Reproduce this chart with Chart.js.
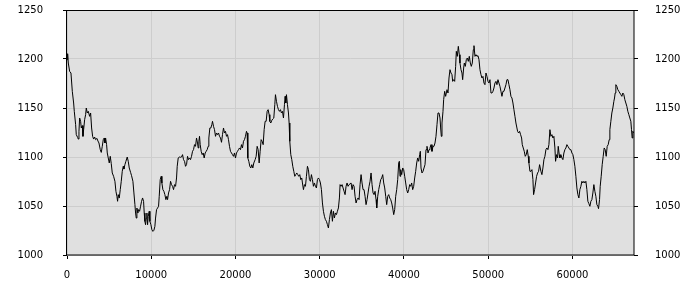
<!DOCTYPE html>
<html>
<head>
<meta charset="utf-8">
<script src="https://cdn.jsdelivr.net/npm/chart.js@4/dist/chart.umd.min.js"></script>
<style>
  body { margin: 0; background: #fff; }
  #wrap { width: 700px; height: 300px; }
</style>
</head>
<body>
<div id="wrap"><canvas id="chart" width="700" height="300"></canvas></div>
<script>
// x positions of the series (sample index)
const xValues = [
  0,76,154,313,471,629,787,866,1024,1103,
  1261,1340,1420,1499,1617,1696,1815,1894,1973,2092,
  2210,2289,2408,2526,2684,2803,2922,3040,3159,3277,
  3396,3554,3673,3791,3949,4068,4187,4305,4424,4503,
  4582,4700,4780,4898,5017,5135,5254,5373,5531,5689,
  5807,5926,6005,6084,6203,6321,6440,6558,6677,6756,
  6875,6993,7151,7270,7389,7547,7665,7823,7942,8061,
  8140,8219,8298,8416,8495,8614,8733,8851,8970,9088,
  9167,9246,9325,9405,9484,9563,9642,9760,9839,9958,
  10076,10195,10314,10432,10511,10630,10749,10867,
  10947,11065,11184,11263,11381,11500,11619,11737,11856,11935,
  12053,12172,12291,12409,12528,12646,12765,12884,13002,13081,
  13200,13318,13476,13595,13714,13832,13951,14069,14188,14307,
  14425,14544,14662,14781,14900,15018,15137,15255,15374,15493,
  15572,15651,15730,15809,15927,16046,16165,16283,16402,16520,
  16639,16758,16837,16955,17074,17192,17271,17390,17509,17627,
  17746,17864,17983,18102,18220,18339,18457,18576,18695,18813,
  18932,19050,19169,19287,19406,19525,19643,19762,19880,19999,
  20118,20236,20355,20473,20592,20711,20829,20948,21066,21185,
  21303,21383,21462,21580,21699,21817,21936,22055,22173,
  22333,22451,22570,22688,22807,22926,23044,23163,23281,23400,
  23518,23637,23756,23874,23993,24072,24191,24309,24428,24546,
  24665,24744,24863,24981,25100,25218,25337,25455,25574,25693,
  25811,25890,25969,26048,26167,26286,26365,26444,26562,26681,
  26799,26918,27037,27155,27274,27392,27511,27629,27748,27867,
  27946,28064,28183,28302,28420,28539,28657,28776,28895,29013,
  29132,29250,29369,29488,29606,29725,29843,29962,30081,30199,
  30318,30436,30555,30673,30792,30911,31029,31148,31266,31385,
  31504,31622,31741,31859,31978,32097,32215,32334,32413,32531,
  32650,32769,32887,33006,33124,33243,33361,33480,
  33718,33836,33955,34073,34192,34311,34429,34548,34666,34785,
  34904,35022,35141,35259,35378,35496,35615,35734,35852,35971,
  36089,36208,36327,36445,36564,36682,36761,36880,36999,37117,
  37236,37354,37473,37592,37710,37829,37947,38066,38185,38303,
  38422,38540,38659,38777,38896,39015,39133,39252,39370,39449,
  39529,39608,39726,39845,39963,40082,40201,40319,40438,40556,
  40675,40794,40912,41031,41149,41268,41387,41505,41624,41742,
  41861,41940,42019,42138,42256,42375,42493,42612,42730,42849,
  42968,43086,43205,43323,43442,43561,43679,43798,43916,44035,
  44154,44272,44351,44430,44509,44628,44707,44826,44944,
  45104,45222,45341,45459,45578,45697,45776,45894,46013,46131,
  46210,46329,46448,46566,46645,46764,46882,46962,47080,47159,
  47278,47396,47515,47634,47752,47871,47989,48108,48226,48306,
  48424,48543,48661,48780,48899,49017,49136,49254,49373,49491,
  49610,49729,49847,49966,50084,50203,50322,50440,50559,50677,
  50796,50915,51033,51152,51270,51389,51507,51626,51745,51863,
  51982,52100,52219,52338,52456,52575,52693,52812,52931,53049,
  53168,53286,53405,53484,53603,53721,53840,53958,54038,54156,
  54275,54393,54512,54630,54749,54828,54947,55066,55184,55303,
  55382,55500,55619,55738,55856,55975,56093,
  56252,56370,56489,56607,56726,56845,56963,57082,57200,57319,
  57437,57556,57675,57793,57912,57991,58110,58228,58307,58426,
  58505,58624,58742,58861,58979,59098,59216,59335,59454,59572,
  59691,59809,59928,60047,60165,60284,60402,60521,60639,60758,
  60877,60995,61114,61232,61351,61470,61588,61707,61825,61944,
  62063,62181,62300,62418,62537,62655,62774,62893,63011,63090,
  63209,63288,63407,63525,63644,63763,63881,64000,64118,64237,
  64356,64435,64553,64672,64790,64909,64988,65067,65146,65265,
  65383,65502,65620,65739,65858,65976,66095,66213,66332,66451,
  66569,66688,66806,66925,67004,67083,67162,67300
];

// series values
const yValues = [
  1199.3,1205.4,1195.9,1187.4,1185.7,1167.0,1155.1,1146.6,1133.0,1122.8,
  1120.0,1118.3,1126.2,1139.8,1136.4,1129.6,1132.0,1121.1,1127.9,1138.1,
  1143.2,1150.0,1144.9,1146.6,1141.5,1144.9,1129.6,1121.1,1118.3,1120.4,
  1117.7,1119.0,1116.3,1114.3,1107.5,1104.7,1110.9,1117.7,1119.4,1114.3,
  1119.4,1112.6,1104.1,1099.0,1093.9,1100.7,1093.2,1083.7,1080.3,1075.2,
  1065.0,1059.8,1054.8,1061.6,1058.1,1066.7,1075.2,1085.4,1090.5,1087.7,
  1092.2,1095.6,1100.0,1095.6,1088.8,1084.3,1080.9,1075.2,1063.3,1051.4,
  1042.8,1037.7,1047.9,1042.8,1046.3,1044.6,1049.7,1054.8,1058.2,1054.8,
  1042.8,1034.3,1030.9,1037.7,1042.8,1030.9,1039.4,1044.6,1034.3,1030.9,
  1025.8,1024.1,1025.2,1029.2,1037.7,1046.3,1047.9,1049.7,
  1059.9,1076.9,1080.3,1073.5,1066.7,1065.0,1061.6,1056.5,1059.9,1056.5,
  1063.3,1066.7,1075.2,1071.8,1070.1,1066.7,1071.8,1070.1,1078.6,1090.5,
  1099.0,1100.0,1099.7,1100.0,1102.4,1097.3,1095.6,1090.5,1092.2,1100.7,
  1097.3,1099.0,1097.3,1100.7,1105.8,1107.5,1112.6,1110.9,1119.4,1114.3,
  1109.2,1116.0,1121.1,1112.6,1105.8,1102.4,1104.1,1099.0,1104.1,1105.8,
  1107.5,1110.9,1119.4,1129.6,1129.6,1133.0,1136.4,1131.3,1127.9,1121.1,
  1124.5,1122.8,1124.5,1121.1,1119.4,1115.0,1122.8,1129.6,1124.5,1126.2,
  1121.1,1122.8,1117.7,1110.9,1105.8,1104.1,1102.4,1100.7,1104.1,1099.0,
  1104.1,1105.8,1107.5,1109.2,1107.5,1112.6,1109.2,1116.0,1117.7,1121.1,
  1126.2,1124.5,1099.0,1095.6,1090.5,1088.8,1092.2,1088.8,1093.9,
  1097.3,1100.7,1110.9,1107.5,1093.9,1105.8,1117.7,1116.0,1112.6,1127.9,
  1136.4,1136.4,1146.6,1148.3,1143.2,1136.4,1134.7,1137.4,1138.8,1139.8,
  1153.4,1163.6,1156.8,1151.7,1148.3,1146.6,1148.3,1144.9,1146.6,1139.8,
  1153.4,1161.9,1155.1,1163.6,1153.4,1144.9,1134.7,1116.0,1102.4,1097.3,
  1090.5,1085.4,1080.3,1082.0,1083.7,1082.0,1080.3,1082.0,1076.9,1078.6,
  1073.5,1066.7,1071.8,1070.1,1080.3,1090.5,1087.1,1076.9,1075.2,1082.0,
  1076.9,1070.1,1073.5,1070.1,1068.4,1076.9,1078.6,1076.9,1073.5,1066.7,
  1053.1,1044.6,1039.5,1036.1,1034.4,1031.0,1027.6,1036.1,1042.9,1046.3,
  1034.4,1044.6,1037.8,1042.9,1041.2,1044.6,1048.0,1058.2,1071.8,1070.1,
  1071.8,1068.4,1065.0,1061.6,1070.1,1073.5,1070.1,1071.8,
  1073.5,1066.7,1071.8,1070.1,1059.9,1053.1,1056.5,1058.2,1056.5,1071.8,
  1082.0,1073.5,1066.7,1066.7,1059.9,1051.4,1056.5,1063.3,1070.1,1075.2,
  1083.7,1071.8,1063.3,1061.6,1065.0,1056.5,1048.0,1059.9,1066.7,1071.8,
  1076.9,1078.6,1082.0,1073.5,1068.4,1059.9,1051.4,1059.9,1061.6,1058.2,
  1056.5,1053.1,1048.0,1041.2,1046.3,1059.9,1066.7,1076.9,1093.9,1095.6,
  1080.3,1087.1,1082.0,1088.8,1087.1,1080.3,1073.5,1066.7,1063.3,1066.7,
  1071.8,1070.1,1073.5,1066.7,1070.1,1078.6,1085.4,1093.9,1099.0,1095.6,
  1102.4,1105.8,1088.8,1083.7,1085.4,1088.8,1092.2,1107.5,1110.9,1104.1,
  1107.5,1109.2,1112.6,1105.8,1110.9,1110.9,1114.3,1121.1,1133.0,1144.9,
  1144.9,1139.8,1129.6,1121.1,1134.7,1146.6,1158.5,1167.0,1161.9,
  1168.7,1165.3,1180.6,1189.1,1185.7,1184.0,1177.2,1178.9,1177.2,1192.5,
  1207.8,1202.7,1212.9,1204.4,1195.9,1189.1,1185.7,1178.9,1190.8,1195.9,
  1192.5,1199.3,1201.0,1197.6,1202.7,1195.9,1192.5,1195.9,1209.5,1213.6,
  1202.7,1204.4,1202.7,1203.4,1199.3,1189.1,1184.0,1180.6,1182.3,1175.5,
  1173.8,1185.7,1182.3,1177.2,1175.5,1178.9,1165.3,1165.3,1167.0,1170.4,
  1175.5,1177.2,1173.8,1178.9,1175.5,1172.1,1167.0,1161.9,1167.0,1167.0,
  1170.4,1173.8,1178.9,1178.9,1173.8,1168.7,1161.9,1160.2,1155.1,1148.3,
  1141.5,1134.7,1129.6,1126.2,1124.5,1126.2,1122.8,1119.4,1112.6,1109.2,
  1105.8,1100.7,1102.4,1107.5,1100.7,1093.9,1085.4,1085.4,1087.1,1076.9,
  1061.6,1066.7,1073.5,1080.3,1083.7,1085.4,1092.2,
  1085.4,1082.0,1088.8,1097.3,1100.7,1107.5,1109.2,1107.5,1112.6,1127.9,
  1121.1,1122.8,1119.4,1121.1,1109.2,1095.6,1102.4,1099.0,1110.9,1102.4,
  1099.0,1102.4,1099.0,1097.3,1104.1,1107.5,1109.2,1112.6,1110.9,1109.2,
  1107.5,1107.5,1104.1,1102.4,1097.3,1090.5,1080.3,1068.4,1061.6,1058.2,
  1066.7,1070.1,1075.2,1073.5,1075.2,1073.5,1075.2,1066.7,1054.8,1052.4,
  1049.7,1054.8,1056.5,1063.3,1071.8,1065.0,1059.9,1051.4,1049.7,1047.3,
  1056.5,1070.1,1080.3,1092.2,1100.7,1109.2,1107.5,1100.7,1110.9,1112.6,
  1117.7,1127.9,1136.4,1144.9,1150.0,1156.8,1160.2,1165.3,1173.8,1172.1,
  1168.7,1167.0,1165.3,1163.6,1161.9,1165.3,1163.6,1158.5,1155.1,1151.7,
  1146.6,1143.2,1139.8,1136.4,1127.9,1119.4,1126.2,1124.5
];

const xTicks = [0, 10000, 20000, 30000, 40000, 50000, 60000];
const yTicks = [1000, 1050, 1100, 1150, 1200, 1250];
const xMax = 67300;

const tickFont = { family: "'DejaVu Sans', sans-serif", size: 10 };

// grey plot background and black frame around the chart area
const plotFrame = {
    id: "plotFrame",
    beforeDraw(chart) {
        const a = chart.chartArea;
        const ctx = chart.ctx;
        ctx.save();
        ctx.fillStyle = "#e0e0e0";
        ctx.fillRect(a.left, a.top, a.right - a.left, a.bottom - a.top);
        ctx.restore();
    },
    afterDraw(chart) {
        const a = chart.chartArea;
        const ctx = chart.ctx;
        ctx.save();
        ctx.strokeStyle = "#000";
        ctx.lineWidth = 1;
        ctx.strokeRect(Math.round(a.left) - 0.5, Math.round(a.top) + 0.5,
            Math.round(a.right - a.left) + 0.5, Math.round(a.bottom - a.top) - 0.5);
        ctx.restore();
    }
};

const setTicks = list => scale => { scale.ticks = list.map(v => ({ value: v })); };

const yAxis = (position, width, padding, onArea) => ({
    type: "linear",
    position: position,
    min: 1000,
    max: 1250,
    afterBuildTicks: setTicks(yTicks),
    afterFit: s => { s.width = width; s.paddingTop = 0; s.paddingBottom = 0; },
    border: { display: false },
    grid: { color: "#cdcdcd", tickColor: "#000", tickLength: 4, drawOnChartArea: onArea },
    ticks: { font: tickFont, color: "#000", padding: padding, callback: v => String(v) }
});

new Chart(document.getElementById("chart"), {
    type: "line",
    data: {
        datasets: [{
            data: xValues.map((x, i) => ({ x: x, y: yValues[i] })),
            borderColor: "#000",
            borderWidth: 1,
            pointRadius: 0,
            tension: 0,
            fill: false
        }]
    },
    options: {
        responsive: false,
        animation: false,
        layout: { padding: { top: 10 } },
        plugins: { legend: { display: false }, tooltip: { enabled: false } },
        scales: {
            x: {
                type: "linear",
                position: "bottom",
                min: 0,
                max: xMax,
                afterBuildTicks: setTicks(xTicks),
                afterFit: s => { s.height = 45; s.paddingLeft = 0; s.paddingRight = 0; },
                border: { display: false },
                grid: { color: "#cdcdcd", tickColor: "#000", tickLength: 4 },
                ticks: { font: tickFont, color: "#000", padding: 10, maxRotation: 0, autoSkip: false, callback: v => String(v) }
            },
            y: yAxis("left", 67, 20, true),
            y2: yAxis("right", 66, 17, false)
        }
    },
    plugins: [plotFrame]
});
</script>
</body>
</html>
